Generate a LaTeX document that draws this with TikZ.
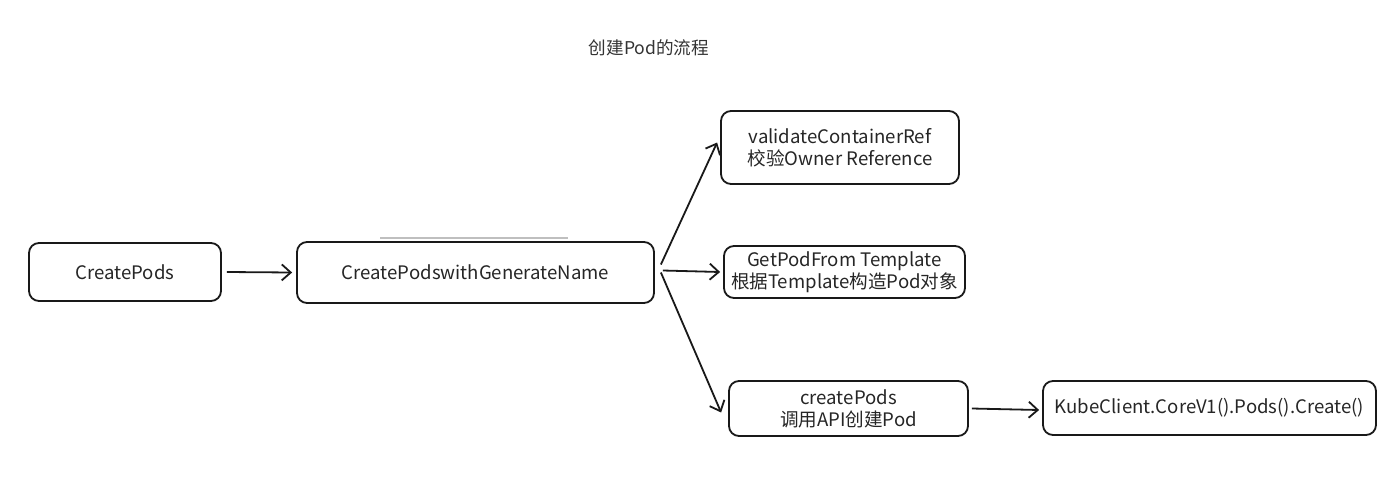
\documentclass[tikz,border=0pt]{standalone}
\usepackage{fontspec}
\setmainfont{Noto Sans CJK SC}
\usetikzlibrary{arrows.meta}
\begin{document}
\begin{tikzpicture}[x=1pt,y=-1pt,
  box/.style={draw=black!90, line width=1.8pt, rounded corners=10pt, align=center,
    inner sep=0pt, font=\fontsize{18.6}{22}\selectfont, text=black!85},
  arr/.style={draw=black!90, line width=1.8pt, -{Straight Barb[length=9pt,width=16pt,line width=1.8pt]}}]
\useasboundingbox (0,0) rectangle (1389,501);
\fill[white] (0,0) rectangle (1389,501);
\node[font=\fontsize{17.6}{20}\selectfont, text=black!80] (title) at (649,48) {创建Pod的流程};
\node[box, minimum width=192pt, minimum height=58pt] (A) at (125,272) {CreatePods};
\node[box, minimum width=357pt, minimum height=61pt] (B) at (475.5,272.5) {CreatePodswithGenerateName};
\node[box, minimum width=238pt, minimum height=73pt] (C) at (840,147.5) {validateContainerRef\\校验Owner Reference};
\node[box, minimum width=241pt, minimum height=52pt] (D) at (844.5,272) {GetPodFrom Template\\根据Template构造Pod对象};
\node[box, minimum width=239pt, minimum height=55pt] (E) at (848.5,408.5) {createPods\\调用API创建Pod};
\node[box, minimum width=333pt, minimum height=54pt] (F) at (1209.5,408) {KubeClient.CoreV1().Pods().Create()};
\coordinate (g1) at (380,238);
\coordinate (g2) at (568,238);
\draw[black!25, line width=2pt] (g1) -- (g2);
\draw[arr] ([xshift=5]A.east) -- ([xshift=-4]B.west);
\draw[arr] ([shift={(6,-8)}]B.east) -- ([shift={(-3,-5)}]C.west);
\draw[arr] ([shift={(8,-2)}]B.east) -- ([shift={(-3,0)}]D.west);
\draw[arr] ([shift={(6,0)}]B.east) -- ([shift={(-7,4)}]E.west);
\draw[arr] ([shift={(3,0)}]E.east) -- ([shift={(-3,2)}]F.west);
\end{tikzpicture}
\end{document}
